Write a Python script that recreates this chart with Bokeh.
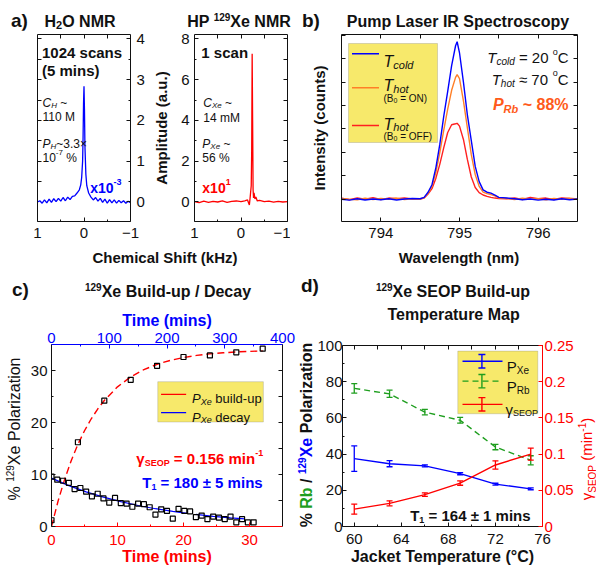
import math
from bokeh.plotting import figure
from bokeh.models import Range1d, LinearAxis, FixedTicker, Label, BoxAnnotation, CustomJSTickFormatter, Div
from bokeh.layouts import row, column
from bokeh.embed import file_html
from bokeh.resources import INLINE

FONT = "Liberation Sans"
INK = "#111111"
BLUE = "#0000FF"
RED = "#FF0000"
ORANGE = "#FF7F27"
ORANGE_TXT = "#FF5A1A"
RED_SPEC = "#FF2020"
GREEN = "#1E9E1E"
YELLOW = "#F7E96B"
EDGE = "#808080"

# ---------------- data ----------------
# (a) 1H NMR of water (x10^-3) and HP 129Xe NMR (x10^1)
h2o_shift = [1.00, 0.95, 0.90, 0.85, 0.80, 0.75, 0.70, 0.65, 0.60, 0.55, 0.50, 0.45, 0.40, 0.35,
             0.30, 0.25, 0.20, 0.15, 0.10, 0.07, 0.05, 0.03, 0.02, 0.01, 0.00, -0.01, -0.02, -0.04,
             -0.06, -0.10, -0.15, -0.20, -0.25, -0.30, -0.35, -0.40, -0.45, -0.50, -0.55, -0.60,
             -0.65, -0.70, -0.75, -0.80, -0.85, -0.90, -0.95, -1.00]
h2o_amp = [0.00, 0.03, -0.03, 0.05, -0.02, 0.07, -0.01, 0.08, 0.01, 0.09, 0.02, 0.11, 0.03, 0.12,
           0.06, 0.14, 0.15, 0.22, 0.30, 0.42, 0.60, 1.00, 1.58, 2.42, 2.84, 2.27, 1.38, 0.68,
           0.40, 0.22, 0.12, 0.05, 0.11, 0.02, 0.09, -0.01, 0.07, -0.03, 0.06, -0.02,
           0.05, -0.03, 0.04, -0.02, 0.03, -0.03, 0.02, -0.02]
xe_shift = [1.00, 0.90, 0.80, 0.70, 0.60, 0.50, 0.40, 0.30, 0.20, 0.10, 0.00, -0.08, -0.14, -0.18,
            -0.20, -0.22, -0.23, -0.24, -0.25, -0.26, -0.27, -0.28, -0.30, -0.32, -0.35, -0.40,
            -0.50, -0.60, -0.70, -0.80, -0.90, -1.00]
xe_amp = [0.02, -0.03, 0.04, -0.02, 0.03, 0.00, 0.05, -0.02, 0.03, 0.05, 0.02, 0.06, 0.10, -0.15,
          0.30, 0.80, 2.50, 7.27, 4.00, 0.60, 0.20, 0.45, 0.15, 0.25, 0.05, 0.08,
          0.02, 0.04, -0.01, 0.03, 0.00, 0.02]

# (b) pump laser IR spectra
wavelength = [793.5, 793.6, 793.7, 793.8, 793.9, 794.0, 794.1, 794.2, 794.3, 794.4,
              794.5, 794.55, 794.6, 794.65, 794.7, 794.75, 794.8, 794.85, 794.9, 794.95, 794.97,
              795.0, 795.05, 795.1, 795.15, 795.2, 795.25, 795.3, 795.35, 795.4, 795.45, 795.5,
              795.6, 795.7, 795.8, 795.9, 796.0, 796.1, 796.2, 796.3, 796.4, 796.5]
int_cold = [0.00, -0.04, 0.02, -0.03, 0.01, -0.02, 0.02, -0.03, 0.01, 0.03,
            0.02, 0.08, 0.30, 0.62, 1.35, 2.35, 3.55, 4.60, 5.70, 6.55, 6.72,
            6.25, 5.00, 3.60, 2.50, 1.40, 0.75, 0.40, 0.30, 0.26, 0.18, 0.08,
            0.05, 0.02, -0.02, 0.01, -0.04, 0.00, -0.03, 0.02, -0.02, 0.01]
int_hot_on = [0.03, 0.00, -0.02, 0.04, -0.01, 0.03, 0.00, 0.05, -0.01, 0.02,
              0.00, 0.06, 0.25, 0.55, 1.15, 2.00, 2.95, 3.85, 4.65, 5.20, 5.32,
              5.15, 4.20, 3.05, 1.90, 1.05, 0.55, 0.30, 0.24, 0.20, 0.14, 0.06,
              0.03, -0.01, 0.04, 0.00, 0.02, -0.02, 0.03, 0.00, 0.04, 0.01]
int_hot_off = [0.05, -0.02, 0.06, 0.00, 0.07, -0.01, 0.05, 0.02, 0.06, 0.01,
               0.02, 0.05, 0.22, 0.45, 0.90, 1.50, 2.20, 2.85, 3.18, 3.22, 3.24,
               3.12, 2.55, 1.70, 0.95, 0.50, 0.28, 0.18, 0.12, 0.08, 0.05, 0.03,
               0.02, 0.06, -0.01, 0.08, 0.02, 0.05, -0.01, 0.06, 0.03, 0.02]

# (c) 129Xe build-up (bottom axis, mins) and decay (top axis, mins)
build_t = [0, 4, 8, 12, 16, 20, 24, 28, 32]
build_p = [1.2, 16.2, 24.2, 28.2, 30.9, 32.6, 32.9, 33.5, 34.2]
build_fit_t = [0, 1, 2, 3, 4, 5, 6, 7, 8, 10, 12, 14, 16, 18, 20, 22, 24, 26, 28, 30, 32]
build_fit_p = [0.0, 4.91, 9.11, 12.71, 15.78, 18.41, 20.67, 22.59, 24.24, 26.86, 28.77, 30.17,
               31.20, 31.95, 32.50, 32.90, 33.19, 33.41, 33.57, 33.68, 33.77]
decay_t = [0, 10, 20, 30, 40, 50, 60, 70, 80, 90, 100, 110, 120, 130, 140, 150, 160, 170,
           180, 190, 200, 210, 220, 230, 240, 250, 260, 270, 280, 290, 300, 310, 320, 330, 340, 350]
decay_p = [9.6, 9.0, 8.8, 8.4, 7.2, 7.4, 6.7, 5.8, 6.3, 5.4, 4.6, 5.5, 4.5, 4.4, 3.8, 4.4, 4.3, 3.7,
           2.3, 3.3, 3.0, 1.5, 3.4, 3.0, 2.9, 1.8, 2.1, 1.4, 1.9, 1.7, 1.4, 1.9, 0.8, 1.4, 0.8, 0.8]
decay_fit1_t = [0, 30, 60, 90, 120, 150, 180, 210, 235]
decay_fit1_p = [9.3, 7.87, 6.66, 5.64, 4.77, 4.04, 3.42, 2.90, 2.52]
decay_fit2_t = [250, 280, 310, 335]
decay_fit2_p = [2.32, 1.96, 1.66, 1.45]

# (d) SEOP temperature map
temp = [60, 63, 66, 69, 72, 75]
p_xe = [37.5, 34.7, 33.5, 29.2, 23.4, 20.8]
p_xe_err = [7.0, 1.7, 0.6, 0.6, 0.5, 0.5]
p_rb = [76.3, 73.3, 63.2, 58.7, 43.9, 36.6]
p_rb_err = [2.6, 2.0, 1.5, 1.6, 1.5, 2.5]
gamma = [0.024, 0.032, 0.044, 0.060, 0.085, 0.100]
gamma_err = [0.007, 0.0034, 0.0025, 0.003, 0.0057, 0.0083]

# ---------------- helpers: rich labels inside plot frames ----------------
REG = {' ': .278, '.': .278, ',': .278, '(': .333, ')': .333, '%': .889, '-': .333, '~': .584,
       '=': .584, '≈': .584, '±': .584, '×': .584, '/': .278, '°': .4, 'γ': .5,
       'a': .556, 'b': .556, 'c': .5, 'd': .556, 'e': .556, 'f': .278, 'g': .556, 'h': .556,
       'i': .222, 'k': .5, 'l': .222, 'm': .833, 'n': .556, 'o': .556, 'p': .556, 'r': .333,
       's': .5, 't': .278, 'u': .556, 'x': .5, 'y': .5, 'z': .5,
       'B': .667, 'C': .722, 'D': .722, 'E': .667, 'F': .611, 'H': .722, 'I': .278, 'M': .833,
       'N': .722, 'O': .778, 'P': .667, 'R': .722, 'S': .667, 'T': .611, 'X': .667}
BOLD = {' ': .278, '.': .278, '(': .333, ')': .333, '%': .889, '-': .333, '~': .584, '=': .584,
        '±': .584, '/': .278, '°': .4, 'γ': .556,
        'a': .556, 'b': .611, 'c': .556, 'd': .611, 'e': .556, 'i': .278, 'k': .556, 'l': .278,
        'm': .889, 'n': .611, 'o': .611, 'p': .611, 'r': .389, 's': .556, 't': .333, 'u': .611,
        'y': .556, 'z': .5, 'x': .556,
        'B': .722, 'C': .722, 'D': .722, 'E': .667, 'H': .722, 'I': .278, 'M': .833, 'N': .722,
        'O': .778, 'P': .667, 'R': .722, 'S': .667, 'T': .611, 'X': .667}


def tw(s, size, bold):
    tbl = BOLD if bold else REG
    return sum(tbl.get(ch, 0.556) for ch in s) * size


def T(text, size, bold=False, italic=False, color=INK, shift=0):
    return (text, size, bold, italic, color, shift)


def rich(p, x, y, segs, align="left", dy=0.0):
    total = sum(tw(s[0], s[1], s[2]) for s in segs)
    cum = {"left": 0.0, "center": -total / 2.0, "right": -total}[align]
    for (t, size, bold, italic, color, shift) in segs:
        stripped = t.lstrip()
        lead = tw(t[:len(t) - len(stripped)], size, bold)
        body = stripped.rstrip()
        if body:
            style = ("bold " if bold else "") + ("italic" if italic else "")
            style = style.strip() or "normal"
            p.add_layout(Label(x=x, y=y, x_offset=cum + lead, y_offset=-dy + shift, text=body,
                               text_font=FONT, text_font_size=f"{size}px", text_font_style=style,
                               text_color=color, text_align="left", text_baseline="alphabetic"))
        cum += tw(t, size, bold)


class Geo:
    """maps page pixels (top-left origin) to a figure's data coordinates"""
    def __init__(self, fx0, fx1, fy0, fy1, xr, yr):
        self.fx0, self.fx1, self.fy0, self.fy1, self.xr, self.yr = fx0, fx1, fy0, fy1, xr, yr

    def x(self, X):
        return self.xr[0] + (X - self.fx0) / (self.fx1 - self.fx0) * (self.xr[1] - self.xr[0])

    def y(self, Y):
        return self.yr[0] + (self.fy1 - Y) / (self.fy1 - self.fy0) * (self.yr[1] - self.yr[0])


def make_fig(w, h, l, r, t, b, xr, yr):
    p = figure(width=w, height=h, x_range=Range1d(*xr), y_range=Range1d(*yr),
               output_backend="svg", toolbar_location=None, x_axis_type=None, y_axis_type=None,
               min_border_left=l, min_border_right=r, min_border_top=t, min_border_bottom=b)
    p.outline_line_color = None
    p.background_fill_color = "white"
    p.border_fill_color = "white"
    try:
        p.frame_align = False
    except Exception:
        pass
    return p


def add_axis(p, side, major=(), minor=(), color=INK, fs="15px", standoff=0, rname=None,
             label=None, lcolor=None, lsize="15px", lstandoff=5, fmt=None):
    kw = {}
    if rname:
        if side in ("above", "below"):
            kw["x_range_name"] = rname
        else:
            kw["y_range_name"] = rname
    ax = LinearAxis(ticker=FixedTicker(ticks=list(major), minor_ticks=list(minor)), **kw)
    ax.major_tick_in = 4
    ax.major_tick_out = 0
    ax.minor_tick_in = 2 if major else 4
    ax.minor_tick_out = 0
    ax.axis_line_color = color
    ax.major_tick_line_color = color
    ax.minor_tick_line_color = color
    ax.major_label_text_color = color
    ax.major_label_text_font = FONT
    ax.major_label_text_font_size = fs
    ax.major_label_standoff = standoff
    if fmt is not None:
        ax.formatter = fmt
    if label:
        ax.axis_label = label
        ax.axis_label_text_font = FONT
        ax.axis_label_text_font_size = lsize
        ax.axis_label_text_font_style = "bold"
        ax.axis_label_text_color = lcolor or color
        ax.axis_label_standoff = lstandoff
    p.add_layout(ax, side)
    return ax


# ---------------- helpers: HTML text blocks outside plot frames ----------------
def hspan(x, y, content, size, bold=False, italic=False, color=INK, anchor="left", rotate=False):
    tx = {"left": "0%", "center": "-50%", "right": "-100%"}[anchor]
    tr = "translate(%s,-50%%)" % tx + (" rotate(-90deg)" if rotate else "")
    style = ("position:absolute;left:%spx;top:%spx;transform:%s;white-space:nowrap;line-height:1;"
             "font-family:'%s',sans-serif;font-size:%spx;font-weight:%s;font-style:%s;color:%s;"
             % (x, y, tr, FONT, size, "bold" if bold else "normal", "italic" if italic else "normal", color))
    return '<span style="%s">%s</span>' % (style, content)


def shifted(t, size, dy, color=None):
    c = ("color:%s;" % color) if color else ""
    return '<span style="font-size:%spx;position:relative;top:%spx;%s">%s</span>' % (size, dy, c, t)


def colored(t, color):
    return '<span style="color:%s;">%s</span>' % (color, t)


def text_div(w, h, spans):
    inner = '<div style="position:relative;display:block;width:%spx;height:%spx;">%s</div>' % (w, h, "".join(spans))
    return Div(text=inner, width=w, height=h, margin=0)


# ================= panel a =================
hdr_a = text_div(290, 30, [
    hspan(11, 19.5, "a)", 19, bold=True),
    hspan(80, 21.5, "H" + shifted("2", 11, 2.5) + "O NMR", 16, bold=True, anchor="center"),
    hspan(239, 21.5, "HP " + shifted("129", 10, -6) + "Xe NMR", 16, bold=True, anchor="center"),
])

A1_Y = (-0.479, 4.11)
g1 = Geo(37, 130, 34, 221, (1, -1), A1_Y)
a1 = make_fig(150, 216, 37, 20, 4, 25, (1, -1), A1_Y)
a1.line(h2o_shift, h2o_amp, line_color=BLUE, line_width=1.3)
add_axis(a1, "below", major=[1, 0, -1], minor=[0.5, -0.5], standoff=6)
add_axis(a1, "above", minor=[0.5, 0, -0.5])
add_axis(a1, "left", minor=[0.5, 1, 1.5, 2, 2.5, 3, 3.5, 4])
add_axis(a1, "right", major=[0, 1, 2, 3, 4], minor=[0.5, 1.5, 2.5, 3.5], standoff=6)
rich(a1, g1.x(41.5), g1.y(52), [T("1024 scans", 15, True)])
rich(a1, g1.x(41.5), g1.y(70), [T("(5 mins)", 15, True)])
rich(a1, g1.x(42), g1.y(102), [T("C", 12, italic=True), T("H", 8, italic=True, shift=-3), T(" ~", 12)])
rich(a1, g1.x(42), g1.y(116), [T("110 M", 12)])
rich(a1, g1.x(42), g1.y(143), [T("P", 12, italic=True), T("H", 8, italic=True, shift=-3), T("~3.3×", 12)])
rich(a1, g1.x(42), g1.y(157), [T("10", 12), T("-7", 8, shift=5), T(" %", 12)])
rich(a1, g1.x(121), g1.y(187), [T("x10", 14, True, color=BLUE), T("-3", 9, True, color=BLUE, shift=6)],
     align="right")

A2_Y = (-0.957, 8.22)
g2 = Geo(192, 287, 34, 221, (1, -1), A2_Y)
a2 = make_fig(140, 216, 42, 3, 4, 25, (1, -1), A2_Y)
a2.line(xe_shift, xe_amp, line_color=RED, line_width=1.3)
add_axis(a2, "below", major=[1, 0, -1], minor=[0.5, -0.5], standoff=6)
add_axis(a2, "above", minor=[0.5, 0, -0.5])
add_axis(a2, "left", major=[0, 2, 4, 6, 8], minor=[1, 3, 5, 7], standoff=5,
         label="Amplitude (a.u.)", lsize="15px", lstandoff=8)
add_axis(a2, "right", minor=[1, 2, 3, 4, 5, 6, 7, 8])
rich(a2, g2.x(199), g2.y(52), [T("1 scan", 15, True)])
rich(a2, g2.x(201), g2.y(102), [T("C", 12, italic=True), T("Xe", 8, italic=True, shift=-3), T(" ~", 12)])
rich(a2, g2.x(201), g2.y(117), [T("14 mM", 12)])
rich(a2, g2.x(200), g2.y(143), [T("P", 12, italic=True), T("Xe", 8, italic=True, shift=-3), T(" ~", 12)])
rich(a2, g2.x(200), g2.y(157), [T("56 %", 12)])
rich(a2, g2.x(200), g2.y(187), [T("x10", 14, True, color=RED), T("1", 9, True, color=RED, shift=6)])

lab_a = text_div(290, 20, [hspan(165, 10.7, "Chemical Shift (kHz)", 15, bold=True, anchor="center")])

# ================= panel b =================
hdr_b = text_div(306, 30, [
    hspan(12, 19.5, "b)", 19, bold=True),
    hspan(168, 21.5, "Pump Laser IR Spectroscopy", 16, bold=True, anchor="center"),
])

B_X, B_Y = (793.5, 796.5), (-0.95, 7.03)
gb = Geo(341, 577, 34, 221, B_X, B_Y)
b = make_fig(306, 216, 51, 19, 4, 25, B_X, B_Y)
b.add_layout(BoxAnnotation(left=gb.x(348), right=gb.x(437), top=gb.y(43), bottom=gb.y(142),
                           fill_color=YELLOW, fill_alpha=1, line_color=EDGE, line_width=1,
                           level="underlay"))
b.line(wavelength, int_hot_off, line_color=RED_SPEC, line_width=1.4)
b.line(wavelength, int_hot_on, line_color=ORANGE, line_width=1.4)
b.line(wavelength, int_cold, line_color=BLUE, line_width=1.4)
for yy, col in ((53.3, BLUE), (87.3, ORANGE), (125, RED_SPEC)):
    b.segment(x0=[gb.x(351.5)], y0=[gb.y(yy)], x1=[gb.x(378.5)], y1=[gb.y(yy)], line_color=col, line_width=1.4)
add_axis(b, "below", major=[794, 795, 796], minor=[794.5, 795.5], standoff=6)
add_axis(b, "above", minor=[794, 794.5, 795, 795.5, 796])
add_axis(b, "left", minor=[0, 1, 2, 3, 4, 5, 6, 7], label="Intensity (counts)", lsize="15px", lstandoff=14)
add_axis(b, "right", minor=[0, 1, 2, 3, 4, 5, 6, 7])
rich(b, gb.x(383), gb.y(60.5), [T("T", 16, italic=True), T("cold", 11, italic=True, shift=-4)])
rich(b, gb.x(383), gb.y(85), [T("T", 16, italic=True), T("hot", 11, italic=True, shift=-3)])
rich(b, gb.x(383), gb.y(98), [T("(B", 10), T("0", 7, shift=-2), T(" = ON)", 10)])
rich(b, gb.x(383), gb.y(123.5), [T("T", 16, italic=True), T("hot", 11, italic=True, shift=-3)])
rich(b, gb.x(383), gb.y(136), [T("(B", 10), T("0", 7, shift=-2), T(" = OFF)", 10)])
rich(b, gb.x(568), gb.y(57), [T("T", 15, italic=True), T("cold", 10, italic=True, shift=-4),
                               T(" = 20 ", 15), T("o", 9, shift=6), T("C", 15)], align="right")
rich(b, gb.x(568), gb.y(78.6), [T("T", 15, italic=True), T("hot", 10, italic=True, shift=-4),
                                 T(" ≈ 70 ", 15), T("o", 9, shift=6), T("C", 15)], align="right")
rich(b, gb.x(568), gb.y(104), [T("P", 16, True, True, ORANGE_TXT), T("Rb", 11, True, True, ORANGE_TXT, -4),
                                T(" ~ 88%", 16, True, color=ORANGE_TXT)], align="right")

lab_b = text_div(306, 20, [hspan(169, 10.7, "Wavelength (nm)", 15, bold=True, anchor="center")])

# ================= panel c =================
hdr_c = text_div(300, 36, [
    hspan(12, 23, "c)", 19, bold=True),
    hspan(168, 25.7, shifted("129", 10, -6) + "Xe Build-up / Decay", 16, bold=True, anchor="center"),
])
side_c = text_div(25, 268, [
    hspan(15, 127, "% " + shifted("129", 10, -6) + "Xe Polarization", 16, anchor="center", rotate=True),
])

C_X, C_Y = (0, 35), (0, 35)
c = make_fig(275, 268, 26, 18, 42, 44, C_X, C_Y)
c.extra_x_ranges = {"top": Range1d(0, 400)}
c.add_layout(BoxAnnotation(left=16.1, right=32.1, bottom=20.1, top=27.85, fill_color=YELLOW,
                           fill_alpha=1, line_color=EDGE, line_width=1, level="underlay"))
c.segment(x0=[16.6], y0=[25.4], x1=[20.4], y1=[25.4], line_color=RED, line_width=1.4)
c.segment(x0=[16.6], y0=[21.9], x1=[20.4], y1=[21.9], line_color=BLUE, line_width=1.4)
c.line(build_fit_t, build_fit_p, line_color=RED, line_width=1.4, line_dash="7 4")
c.line(decay_fit1_t, decay_fit1_p, x_range_name="top", line_color=BLUE, line_width=1.2)
c.line(decay_fit2_t, decay_fit2_p, x_range_name="top", line_color=BLUE, line_width=1.2)
c.scatter(build_t, build_p, marker="square", size=5, fill_color=None, line_color="black", line_width=1.2)
c.scatter(decay_t, decay_p, x_range_name="top", marker="square", size=5, fill_color=None,
          line_color="black", line_width=1.2)
add_axis(c, "below", major=[0, 10, 20, 30], minor=[5, 15, 25], color=RED, standoff=8,
         label="Time (mins)", lsize="16px", lstandoff=0)
add_axis(c, "above", major=[0, 100, 200, 300, 400], minor=[50, 150, 250, 350], color=BLUE,
         rname="top", standoff=2, label="Time (mins)", lsize="16px", lstandoff=1)
add_axis(c, "left", major=[0, 10, 20, 30], minor=[5, 15, 25], standoff=4)
add_axis(c, "right", minor=[5, 10, 15, 20, 25, 30])
rich(c, 21.3, 25.4, [T("P", 13, italic=True), T("Xe", 9, italic=True, shift=-3), T(" build-up", 13)], dy=4.5)
rich(c, 21.3, 21.9, [T("P", 13, italic=True), T("Xe", 9, italic=True, shift=-3), T(" decay", 13)], dy=4.5)
rich(c, 32.07, 14.0, [T("γ", 15, True, color=RED), T("SEOP", 9, True, color=RED, shift=-4),
                      T(" = 0.156 min", 15, True, color=RED), T("-1", 9, True, color=RED, shift=6)],
     align="right", dy=5)
rich(c, 32.07, 9.36, [T("T", 15, True, color=BLUE), T("1", 9, True, color=BLUE, shift=-4),
                      T(" = 180 ± 5 mins", 15, True, color=BLUE)], align="right", dy=5)

# ================= panel d =================
hdr_d = text_div(296, 36, [
    hspan(1, 19, "d)", 19, bold=True),
    hspan(153, 25.7, shifted("129", 10, -6) + "Xe SEOP Build-up", 16, bold=True, anchor="center"),
])
side_dl = text_div(14, 268, [
    hspan(7, 133, "% " + colored("Rb", GREEN) + " / " + shifted("129", 10, -6, BLUE) + colored("Xe", BLUE)
          + " Polarization", 16, bold=True, anchor="center", rotate=True),
])
side_dr = text_div(20, 268, [
    hspan(9.5, 157, "γ" + shifted("SEOP", 10, 4) + " (min" + shifted("-1", 10, -6) + ")", 15,
          color=RED, anchor="center", rotate=True),
])

D_X, D_Y = (59, 76), (0, 100)
d = make_fig(262, 268, 25, 31, 42, 44, D_X, D_Y)
d.extra_y_ranges = {"right": Range1d(0, 0.25)}
d.add_layout(BoxAnnotation(left=68.8, right=75.6, bottom=62.3, top=96.9, fill_color=YELLOW,
                           fill_alpha=1, line_color=EDGE, line_width=1, level="underlay"))
leg_x0, leg_x1, leg_xm, leg_h = 69.2, 72.6, 70.85, 3.7
for yy, col, dash in ((91.3, BLUE, "solid"), (80.3, GREEN, "6 4"), (67.5, RED, "solid")):
    d.segment(x0=[leg_x0], y0=[yy], x1=[leg_x1], y1=[yy], line_color=col, line_width=1.4, line_dash=dash)
    d.segment(x0=[leg_xm], y0=[yy - leg_h], x1=[leg_xm], y1=[yy + leg_h], line_color=col, line_width=1.4)
    d.scatter([leg_xm, leg_xm], [yy - leg_h, yy + leg_h], marker="dash", size=7, line_color=col, line_width=1.4)

xe_lo = [v - e for v, e in zip(p_xe, p_xe_err)]
xe_hi = [v + e for v, e in zip(p_xe, p_xe_err)]
rb_lo = [v - e for v, e in zip(p_rb, p_rb_err)]
rb_hi = [v + e for v, e in zip(p_rb, p_rb_err)]
ga_lo = [v - e for v, e in zip(gamma, gamma_err)]
ga_hi = [v + e for v, e in zip(gamma, gamma_err)]

d.line(temp, p_rb, line_color=GREEN, line_width=1.4, line_dash="6 4")
d.segment(x0=temp, y0=rb_lo, x1=temp, y1=rb_hi, line_color=GREEN, line_width=1.3)
d.scatter(temp + temp, rb_lo + rb_hi, marker="dash", size=6, line_color=GREEN, line_width=1.3)
d.line(temp, p_xe, line_color=BLUE, line_width=1.4)
d.segment(x0=temp, y0=xe_lo, x1=temp, y1=xe_hi, line_color=BLUE, line_width=1.3)
d.scatter(temp + temp, xe_lo + xe_hi, marker="dash", size=6, line_color=BLUE, line_width=1.3)
d.line(temp, gamma, y_range_name="right", line_color=RED, line_width=1.4)
d.segment(x0=temp, y0=ga_lo, x1=temp, y1=ga_hi, y_range_name="right", line_color=RED, line_width=1.3)
d.scatter(temp + temp, ga_lo + ga_hi, y_range_name="right", marker="dash", size=6, line_color=RED, line_width=1.3)

add_axis(d, "below", major=[60, 64, 68, 72, 76], minor=[62, 66, 70, 74], standoff=7,
         label="Jacket Temperature (°C)", lsize="16px", lstandoff=1)
add_axis(d, "above", minor=[60, 62, 64, 66, 68, 70, 72, 74, 76],
         label="\u00a0" * 5 + "Temperature Map", lsize="16px", lstandoff=23)
add_axis(d, "left", major=[0, 20, 40, 60, 80, 100], minor=[10, 30, 50, 70, 90], standoff=0)
add_axis(d, "right", major=[0, 0.05, 0.1, 0.15, 0.2, 0.25], color=RED, rname="right", standoff=2,
         fmt=CustomJSTickFormatter(code="return String(tick)"))
rich(d, 72.97, 91.3, [T("P", 15), T("Xe", 10, shift=-4)], dy=5)
rich(d, 72.97, 80.3, [T("P", 15), T("Rb", 10, shift=-4)], dy=5)
rich(d, 72.85, 67.5, [T("γ", 15), T("SEOP", 9, shift=-4)], dy=5)
rich(d, 75.03, 8.65, [T("T", 15, True), T("1", 9, True, shift=-4), T(" = 164 ± 1 mins", 15, True)],
     align="right", dy=5)

# ================= layout =================
block_a = column(hdr_a, row(a1, a2), lab_a)
block_b = column(hdr_b, b, lab_b)
block_c = column(hdr_c, row(side_c, c))
block_d = column(hdr_d, row(side_dl, d, side_dr))
page = column(row(block_a, block_b), row(block_c, block_d))
open("out.html", "w").write(file_html(page, INLINE))
